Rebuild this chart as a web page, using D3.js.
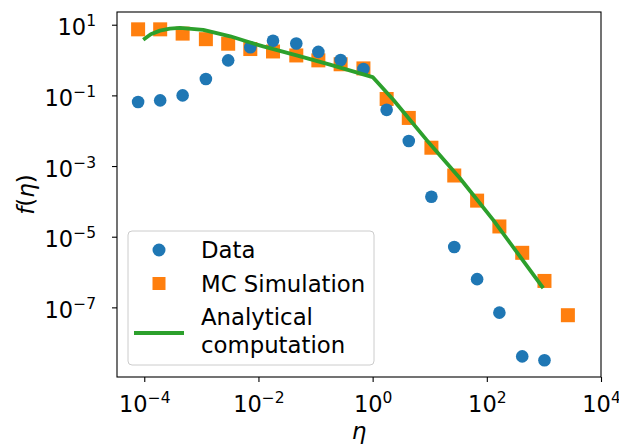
<!DOCTYPE html>
<html>
<head>
<meta charset="utf-8">
<script src="https://cdn.jsdelivr.net/npm/d3@7"></script>
<style>
  body { margin: 0; background: #fff; }
  text { font-family: "DejaVu Sans", sans-serif; fill: #000; }
</style>
</head>
<body>
<div id="chart"></div>
<script>
// values
var dataEta = [7.8e-5, 1.9e-4, 4.7e-4, 1.2e-3, 2.95e-3, 7.2e-3, 1.8e-2, 4.6e-2, 0.112, 0.275,
               0.69, 1.76, 4.3, 10.7, 26.9, 67.6, 166, 417, 1023];
var dataF = [0.065, 0.072, 0.10, 0.29, 0.98, 2.3, 3.5, 2.95, 1.7, 1.0,
             0.56, 0.039, 5.1e-3, 1.35e-4, 5.1e-6, 6.3e-7, 7.1e-8, 4.1e-9, 3.2e-9];

var mcEta = [7.8e-5, 1.9e-4, 4.7e-4, 1.2e-3, 2.95e-3, 7.2e-3, 1.8e-2, 4.6e-2, 0.112, 0.275,
             0.69, 1.76, 4.3, 10.7, 26.9, 67.6, 166, 417, 1023, 2630];
var mcF = [7.4, 7.4, 5.6, 3.9, 2.9, 2.05, 1.75, 1.35, 0.98, 0.76,
           0.58, 0.079, 0.023, 3.3e-3, 5.4e-4, 1.05e-4, 1.95e-5, 3.5e-6, 5.6e-7, 6.0e-8];

var fitEta = [9.6e-5, 1.3e-4, 1.88e-4, 2.8e-4, 4.2e-4, 1.08e-3, 3.2e-3, 6.3e-3, 0.0121, 0.0467,
              0.179, 1.0, 2.3, 8.8, 33.8, 129, 973];
var fitF = [3.76, 5.4, 6.8, 7.7, 8.1, 7.1, 4.7, 3.34, 2.43, 1.35,
            0.74, 0.33, 0.075, 5.5e-3, 4.5e-4, 3.0e-5, 3.5e-7];

var xTicks = [1e-4, 1e-2, 1e0, 1e2, 1e4];
var xTickExp = ["\u22124", "\u22122", "0", "2", "4"];
var yTicks = [1e1, 1e-1, 1e-3, 1e-5, 1e-7];
var yTickExp = ["1", "\u22121", "\u22123", "\u22125", "\u22127"];

var legendLabels = ["Data", "MC Simulation", "Analytical", "computation"];
var colors = { data: "#1f77b4", mc: "#ff7f0e", fit: "#2ca02c" };

var svgWidth = 619;
var svgHeight = 445;
var margin = { top: 12, right: 18, bottom: 68, left: 117 };
var width = svgWidth - margin.left - margin.right;
var height = svgHeight - margin.top - margin.bottom;

var svg = d3.select("#chart")
  .append("svg")
  .attr("width", svgWidth)
  .attr("height", svgHeight);

var g = svg.append("g")
  .attr("transform", `translate(${margin.left}, ${margin.top})`);

var x = d3.scaleLog().domain([3.33e-5, 1e4]).range([0, width]);
var y = d3.scaleLog().domain([1.07e-9, 22.9]).range([height, 0]);

// axes
var xAxis = d3.axisBottom(x).tickValues(xTicks).tickSize(5).tickPadding(7).tickFormat("");
var yAxis = d3.axisLeft(y).tickValues(yTicks).tickSize(5).tickPadding(7).tickFormat("");

var gx = g.append("g").attr("transform", `translate(0, ${height})`).call(xAxis);
var gy = g.append("g").call(yAxis);

[gx, gy].forEach(function(a) {
  a.select(".domain").remove();
  a.selectAll(".tick line").attr("stroke", "#000").attr("stroke-width", 1.1);
});

gx.selectAll(".tick").each(function(d, i) {
  var t = d3.select(this).append("text")
    .attr("y", 35)
    .attr("text-anchor", "middle")
    .style("font-size", "22.5px");
  t.append("tspan").text("10");
  t.append("tspan").attr("dy", -9).style("font-size", "15.5px").text(xTickExp[i]);
});

gy.selectAll(".tick").each(function(d, i) {
  var t = d3.select(this).append("text")
    .attr("x", -21)
    .attr("y", 10)
    .attr("text-anchor", "end")
    .style("font-size", "22.5px");
  t.append("tspan").text("10");
  t.append("tspan").attr("dy", -9).style("font-size", "15.5px").text(yTickExp[i]);
});

// series
var line = d3.line()
  .x(function(d, i) { return x(fitEta[i]); })
  .y(function(d, i) { return y(fitF[i]); });

g.selectAll("rect.mc")
  .data(mcF)
  .enter()
  .append("rect")
  .attr("class", "mc")
  .attr("x", function(d, i) { return x(mcEta[i]) - 7; })
  .attr("y", function(d) { return y(d) - 7; })
  .attr("width", 14)
  .attr("height", 14)
  .attr("fill", colors.mc);

g.selectAll("circle.data")
  .data(dataF)
  .enter()
  .append("circle")
  .attr("class", "data")
  .attr("cx", function(d, i) { return x(dataEta[i]); })
  .attr("cy", function(d) { return y(d); })
  .attr("r", 6.3)
  .attr("fill", colors.data);

g.append("path")
  .datum(fitF)
  .attr("d", line)
  .attr("fill", "none")
  .attr("stroke", colors.fit)
  .attr("stroke-width", 3.8)
  .attr("stroke-linejoin", "round");

// frame
g.append("rect")
  .attr("width", width)
  .attr("height", height)
  .attr("fill", "none")
  .attr("stroke", "#000")
  .attr("stroke-width", 1.1);

// legend
var legend = svg.append("g").attr("transform", "translate(128, 231)");
legend.append("rect")
  .attr("width", 246)
  .attr("height", 134)
  .attr("rx", 4)
  .attr("fill", "#fff")
  .attr("fill-opacity", 0.8)
  .attr("stroke", "#cccccc")
  .attr("stroke-width", 1);

legend.append("circle").attr("cx", 31).attr("cy", 19).attr("r", 6.5).attr("fill", colors.data);
legend.append("rect").attr("x", 24.5).attr("y", 46).attr("width", 13).attr("height", 13).attr("fill", colors.mc);
legend.append("line").attr("x1", 6).attr("x2", 56).attr("y1", 102).attr("y2", 102)
  .attr("stroke", colors.fit).attr("stroke-width", 3.8);

var legendY = [26.5, 60.5, 94, 121.5];
legendLabels.forEach(function(label, i) {
  legend.append("text")
    .attr("x", 73)
    .attr("y", legendY[i])
    .style("font-size", "22.8px")
    .text(label);
});

// axis labels
svg.append("text")
  .attr("transform", `translate(34, ${margin.top + height / 2}) rotate(-90)`)
  .attr("text-anchor", "middle")
  .style("font-size", "23px")
  .call(function(t) {
    t.append("tspan").style("font-style", "italic").text("f");
    t.append("tspan").text("(");
    t.append("tspan").style("font-style", "italic").text("\u03b7");
    t.append("tspan").text(")");
  });

svg.append("text")
  .attr("x", margin.left + width / 2)
  .attr("y", 439)
  .attr("text-anchor", "middle")
  .style("font-size", "23px")
  .style("font-style", "italic")
  .text("\u03b7");
</script>
</body>
</html>
